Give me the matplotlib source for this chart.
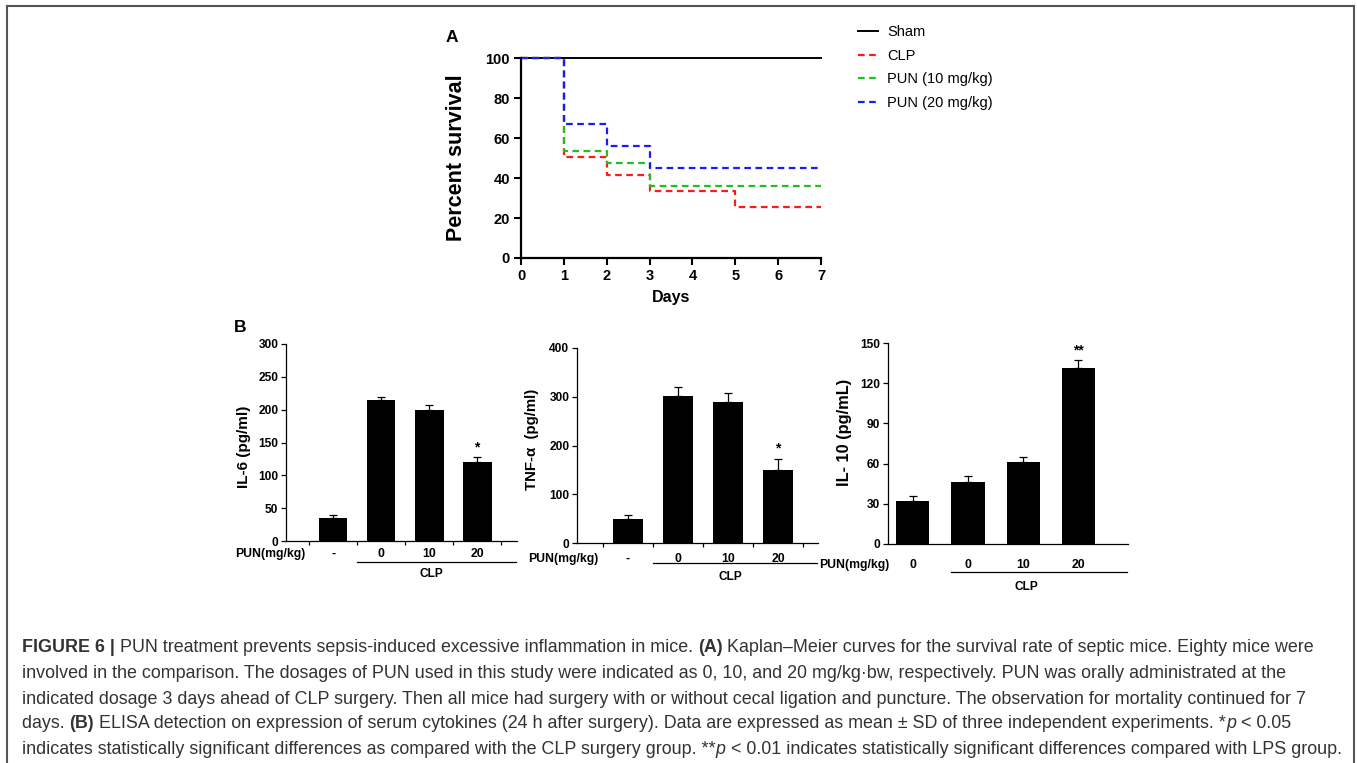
import matplotlib
matplotlib.use("Agg")
import matplotlib.pyplot as plt
from matplotlib.lines import Line2D

plt.rcParams['font.family'] = ['Liberation Sans', 'DejaVu Sans']

# ---------------------------
# data
# ---------------------------
# Kaplan-Meier survival (step, post)
sham_days = [0, 7]
sham_surv = [100, 100]
clp_days = [0, 1, 2, 3, 5, 7]
clp_surv = [100, 50.5, 41.7, 33.5, 25.3, 25.3]
pun10_days = [0, 1, 2, 3, 7]
pun10_surv = [100, 53.5, 47.3, 35.8, 35.8]
pun20_days = [0, 1, 2, 3, 7]
pun20_surv = [100, 67, 56, 45, 45]

km_labels = ['Sham', 'CLP', 'PUN (10 mg/kg)', 'PUN (20 mg/kg)']
km_colors = ['black', '#ff1a1a', '#1fbf1f', '#1a1aff']

# ELISA bars
il6_cats = ['-', '0', '10', '20']
il6_mean = [35, 215, 200, 121]
il6_sd = [4.5, 5, 7, 7]
il6_sig = ['', '', '', '*']

tnf_cats = ['-', '0', '10', '20']
tnf_mean = [50, 301, 290, 150]
tnf_sd = [7, 19, 17, 23]
tnf_sig = ['', '', '', '*']

il10_cats = ['0', '0', '10', '20']
il10_mean = [32, 46, 61, 131]
il10_sd = [4, 4.5, 4, 6.5]
il10_sig = ['', '', '', '**']

W, H = 1357, 763
fig = plt.figure(figsize=(W / 100, H / 100), dpi=100)


def px_axes(x0, x1, y_top, y_bot):
    return fig.add_axes([x0 / W, 1 - y_bot / H, (x1 - x0) / W, (y_bot - y_top) / H])


# ---------------------------
# A: survival curves
# ---------------------------
axA = px_axes(521, 821, 58, 258)
km_sets = [(sham_days, sham_surv), (clp_days, clp_surv),
           (pun10_days, pun10_surv), (pun20_days, pun20_surv)]
handles = []
for i, (d, s) in enumerate(km_sets):
    if i == 0:
        ln, = axA.step(d, s, where='post', color=km_colors[i], lw=1.4, clip_on=False)
    else:
        ln, = axA.step(d, s, where='post', color=km_colors[i], lw=1.6,
                       dashes=(3, 2), clip_on=False)
    handles.append(ln)

axA.set_xlim(0, 7)
axA.set_ylim(0, 100)
axA.set_xticks(range(0, 8))
axA.set_yticks(range(0, 101, 20))
for sp in ['top', 'right']:
    axA.spines[sp].set_visible(False)
for sp in ['left', 'bottom']:
    axA.spines[sp].set_linewidth(1.6)
axA.tick_params(direction='out', length=5, width=1.5, labelsize=10.5, pad=3)
for lab in axA.get_xticklabels() + axA.get_yticklabels():
    lab.set_fontweight('bold')
axA.set_ylabel('Percent survival', fontsize=15.5, fontweight='bold')
axA.yaxis.set_label_coords(-0.18, 0.5)
axA.set_xlabel('Days', fontsize=11.5, fontweight='bold')
axA.xaxis.set_label_coords(0.5, -0.16)
fig.text(446 / W, 1 - 38 / H, 'A', fontsize=12.5, fontweight='bold', va='center')

fig.legend(handles, km_labels, loc='upper left', bbox_to_anchor=(858 / W, 1 - 25 / H),
           frameon=False, fontsize=10.5, handlelength=1.4, handletextpad=0.6,
           labelspacing=0.66, borderpad=0, borderaxespad=0)

# ---------------------------
# B: ELISA bar charts
# ---------------------------
panels = [
    # cats, mean, sd, sig, ylabel, ymax, step, box, xlim, pun_x, label pad, minor,
    # clp y, ylabel size, ylabel x, ylabel y
    (il6_cats, il6_mean, il6_sd, il6_sig, 'IL-6 (pg/ml)', 300, 50,
     (286, 517, 344, 541), (-0.98, 3.83), -0.57, 5, True, (-0.106, -0.165), 11, -0.152, 0.477),
    (tnf_cats, tnf_mean, tnf_sd, tnf_sig, 'TNF-α  (pg/ml)', 400, 100,
     (577, 818, 348, 543), (-1.02, 3.8), -0.6, 7, True, (-0.103, -0.175), 10.8, -0.158, 0.53),
    (il10_cats, il10_mean, il10_sd, il10_sig, 'IL- 10 (pg/mL)', 150, 30,
     (888, 1128, 343, 544), (-0.45, 3.9), -0.42, 11, False, (-0.139, -0.214), 11.8, -0.15, 0.555),
]

for (cats, mean, sd, sig, ylab, ymax, ystep, box, xlim, pun_x, lpad,
     minor, clp_y, ylsize, ylx, yly) in panels:
    ax = px_axes(box[0], box[1], box[2], box[3])
    xs = list(range(len(cats)))
    ax.bar(xs, mean, width=0.6, color='black')
    ax.errorbar(xs, mean, yerr=[[0] * len(sd), sd], fmt='none', ecolor='black',
                elinewidth=0.9, capsize=3, capthick=0.9)
    for x, m, e, s in zip(xs, mean, sd, sig):
        if s:
            ax.annotate(s, (x, m + e), xytext=(0, 2), textcoords='offset points',
                        ha='center', va='bottom', fontsize=10, fontweight='bold')
    ax.set_xlim(*xlim)
    ax.set_ylim(0, ymax)
    ax.set_yticks(range(0, ymax + 1, ystep))
    ax.set_xticks([pun_x] + xs)
    ax.set_xticklabels(['PUN(mg/kg)'] + cats)
    ax.get_xticklabels()[0].set_ha('right')
    if minor:
        ax.set_xticks([x - 0.5 for x in xs] + [xs[-1] + 0.5], minor=True)
    for sp in ['top', 'right']:
        ax.spines[sp].set_visible(False)
    for sp in ['left', 'bottom']:
        ax.spines[sp].set_linewidth(0.9)
    ax.tick_params(axis='y', direction='out', length=3.5, width=0.9, labelsize=8.6, pad=2)
    ax.tick_params(axis='x', which='major', length=0, labelsize=8.8, pad=lpad)
    ax.tick_params(axis='x', which='minor', direction='out', length=3, width=0.9)
    for lab in ax.get_xticklabels() + ax.get_yticklabels():
        lab.set_fontweight('bold')
    ax.set_ylabel(ylab, fontsize=ylsize, fontweight='bold')
    ax.yaxis.set_label_coords(ylx, yly)
    tr = ax.get_xaxis_transform()
    ax.plot([0.5 if minor else 0.7, xlim[1] - 0.02], [clp_y[0]] * 2, color='black',
            lw=0.9, transform=tr, clip_on=False)
    ax.text(2.05, clp_y[1], 'CLP', transform=tr, ha='center', va='center',
            fontsize=8.6, fontweight='bold')

fig.text(234 / W, 1 - 327 / H, 'B', fontsize=12.5, fontweight='bold', va='center')

# ---------------------------
# caption with mixed styles
# ---------------------------
caption = [
    [('FIGURE 6 |', 'bold', 'normal'),
     (' PUN treatment prevents sepsis-induced excessive inflammation in mice. ', 'normal', 'normal'),
     ('(A)', 'bold', 'normal'),
     (' Kaplan–Meier curves for the survival rate of septic mice. Eighty mice were', 'normal', 'normal')],
    [('involved in the comparison. The dosages of PUN used in this study were indicated as 0, 10, '
      'and 20 mg/kg·bw, respectively. PUN was orally administrated at the', 'normal', 'normal')],
    [('indicated dosage 3 days ahead of CLP surgery. Then all mice had surgery with or without '
      'cecal ligation and puncture. The observation for mortality continued for 7', 'normal', 'normal')],
    [('days. ', 'normal', 'normal'), ('(B)', 'bold', 'normal'),
     (' ELISA detection on expression of serum cytokines (24 h after surgery). Data are expressed '
      'as mean ± SD of three independent experiments. *', 'normal', 'normal'),
     ('p', 'normal', 'italic'), (' < 0.05', 'normal', 'normal')],
    [('indicates statistically significant differences as compared with the CLP surgery group. **',
      'normal', 'normal'),
     ('p', 'normal', 'italic'),
     (' < 0.01 indicates statistically significant differences compared with LPS group.',
      'normal', 'normal')],
]
cap_size = 12.85
cap_color = '#333333'
renderer = fig.canvas.get_renderer()


def run_width(s, weight, style):
    t1 = fig.text(0, 0, s + 'x', fontsize=cap_size, fontweight=weight, fontstyle=style)
    t2 = fig.text(0, 0, 'x', fontsize=cap_size, fontweight=weight, fontstyle=style)
    w = t1.get_window_extent(renderer).width - t2.get_window_extent(renderer).width
    t1.remove()
    t2.remove()
    return w


line_y = [648, 673, 699, 724, 750]
for runs, yy in zip(caption, line_y):
    x = 22.0
    for s, weight, style in runs:
        fig.text(x / W, 1 - yy / H, s, fontsize=cap_size, fontweight=weight,
                 fontstyle=style, color=cap_color, va='center', ha='left')
        x += run_width(s, weight, style)

# frame around figure (open at bottom)
for xy in [([7, 7], [H, 6]), ([7, 1354], [6, 6]), ([1354, 1354], [6, H])]:
    fig.add_artist(Line2D([v / W for v in xy[0]], [1 - v / H for v in xy[1]],
                          color='#555555', lw=1.5))

fig.savefig('out.png', dpi=100)
